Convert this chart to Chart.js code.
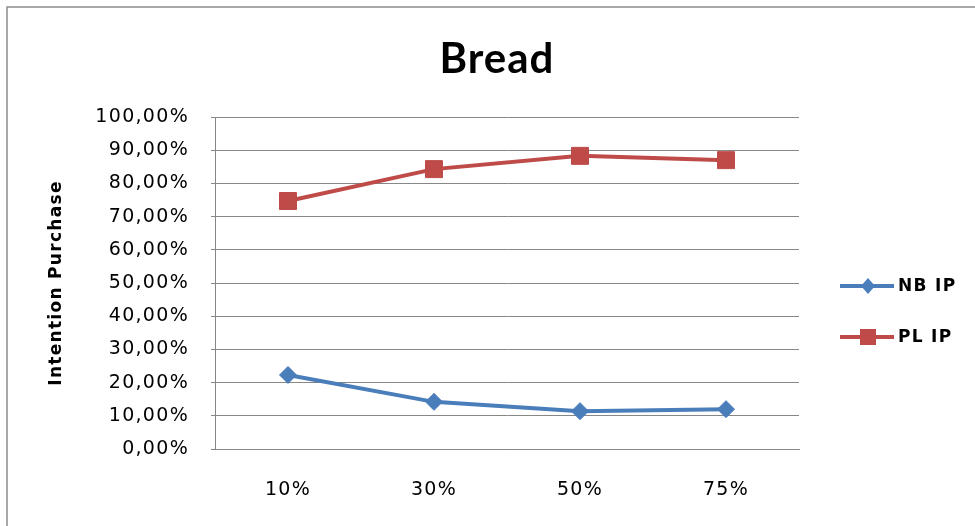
<!DOCTYPE html>
<html>
<head>
<meta charset="utf-8">
<script src="https://cdn.jsdelivr.net/npm/chart.js@4"></script>
<style>
  html, body { margin: 0; padding: 0; background: #fff; }
  #wrap { width: 975px; height: 526px; position: relative; }
</style>
</head>
<body>
<div id="wrap"><canvas id="c" width="975" height="526"></canvas></div>
<script>
// Price discount levels and purchase intention per brand type
const categories = ['10%', '30%', '50%', '75%'];
const nbIP = [22.3, 14.2, 11.4, 12.0];
const plIP = [74.7, 84.3, 88.3, 87.0];
const seriesNames = ['NB IP', 'PL IP'];
const yTicks = [0, 10, 20, 30, 40, 50, 60, 70, 80, 90, 100];
const chartTitle = 'Bread';
const yTitle = 'Intention Purchase';

const FONT = '"DejaVu Sans", Verdana, sans-serif';
const TITLE_FONT = 'Lato, "Open Sans", sans-serif';
const BLUE = '#4A7EBB';
const RED = '#BE4B48';
const GRID = '#878787';

// White background, outer frame and the wide text spacing used throughout
const framePlugin = {
  id: 'frame',
  beforeDraw(chart) {
    const ctx = chart.ctx;
    ctx.save();
    ctx.fillStyle = '#fff';
    ctx.fillRect(0, 0, chart.width, chart.height);
    ctx.strokeStyle = '#8c8c8c';
    ctx.lineWidth = 1.5;
    ctx.strokeRect(7, 7, chart.width + 10, chart.height + 10);
    ctx.restore();
    ctx.letterSpacing = '1.3px';
  }
};

// Chart heading, centred above the plot
const headingPlugin = {
  id: 'heading',
  afterDraw(chart) {
    const ctx = chart.ctx;
    ctx.save();
    ctx.letterSpacing = '1px';
    ctx.fillStyle = '#000';
    ctx.font = 'bold 42px ' + TITLE_FONT;
    ctx.textAlign = 'center';
    ctx.textBaseline = 'alphabetic';
    ctx.fillText(chartTitle, 497, 73);
    ctx.restore();
  }
};

// Legend with a line segment and marker for each series
const lineLegend = {
  id: 'lineLegend',
  afterDraw(chart) {
    const ctx = chart.ctx;
    const x0 = 840, x1 = 894, ys = [286, 337];
    chart.data.datasets.forEach((ds, i) => {
      const y = ys[i];
      ctx.save();
      ctx.strokeStyle = ds.borderColor;
      ctx.lineWidth = 4;
      ctx.beginPath();
      ctx.moveTo(x0, y);
      ctx.lineTo(x1, y);
      ctx.stroke();
      ctx.fillStyle = ds.pointBackgroundColor;
      const cx = (x0 + x1) / 2 + 1;
      if (ds.pointStyle === 'rect') {
        ctx.fillRect(cx - 8, y - 8, 16, 16);
      } else {
        ctx.beginPath();
        ctx.moveTo(cx, y - 8);
        ctx.lineTo(cx + 7, y);
        ctx.lineTo(cx, y + 8);
        ctx.lineTo(cx - 7, y);
        ctx.closePath();
        ctx.fill();
      }
      ctx.fillStyle = '#000';
      ctx.font = 'bold 17px ' + FONT;
      ctx.letterSpacing = '1.3px';
      ctx.textBaseline = 'middle';
      ctx.textAlign = 'left';
      ctx.fillText(ds.label, x1 + 4, y + 1);
      ctx.restore();
    });
  }
};

new Chart(document.getElementById('c'), {
  type: 'line',
  data: {
    labels: categories,
    datasets: [
      {
        label: seriesNames[0],
        data: nbIP,
        borderColor: BLUE,
        backgroundColor: BLUE,
        pointBackgroundColor: BLUE,
        pointBorderColor: BLUE,
        pointBorderWidth: 1,
        pointStyle: 'rectRot',
        pointRadius: 8.5,
        borderWidth: 4,
        tension: 0
      },
      {
        label: seriesNames[1],
        data: plIP,
        borderColor: RED,
        backgroundColor: RED,
        pointBackgroundColor: RED,
        pointBorderColor: RED,
        pointBorderWidth: 1,
        pointStyle: 'rect',
        pointRadius: 12,
        borderWidth: 4,
        tension: 0
      }
    ]
  },
  options: {
    responsive: false,
    animation: false,
    layout: { padding: { top: 117, left: 0, right: 176, bottom: 0 } },
    plugins: {
      legend: { display: false },
      tooltip: { enabled: false },
      title: { display: false }
    },
    scales: {
      x: {
        offset: true,
        grid: { display: false, drawTicks: false },
        border: { color: GRID, width: 1 },
        ticks: { color: '#000', font: { family: FONT, size: 19 }, padding: 30, maxRotation: 0 },
        afterFit(s) { s.height = 77; }
      },
      y: {
        min: 0,
        max: 100,
        afterBuildTicks(s) { s.ticks = yTicks.map(v => ({ value: v })); },
        grid: { color: GRID, lineWidth: 1, tickLength: 4, tickColor: GRID },
        border: { color: GRID, width: 1 },
        ticks: {
          color: '#000',
          font: { family: FONT, size: 19 },
          padding: 22,
          callback: v => v.toFixed(2).replace('.', ',') + '%'
        },
        title: {
          display: true,
          text: yTitle,
          color: '#000',
          font: { family: FONT, size: 17, weight: 'bold' },
          padding: { top: 46, bottom: 0 }
        },
        afterFit(s) { s.width = 215; }
      }
    }
  },
  plugins: [framePlugin, headingPlugin, lineLegend]
});
</script>
</body>
</html>
